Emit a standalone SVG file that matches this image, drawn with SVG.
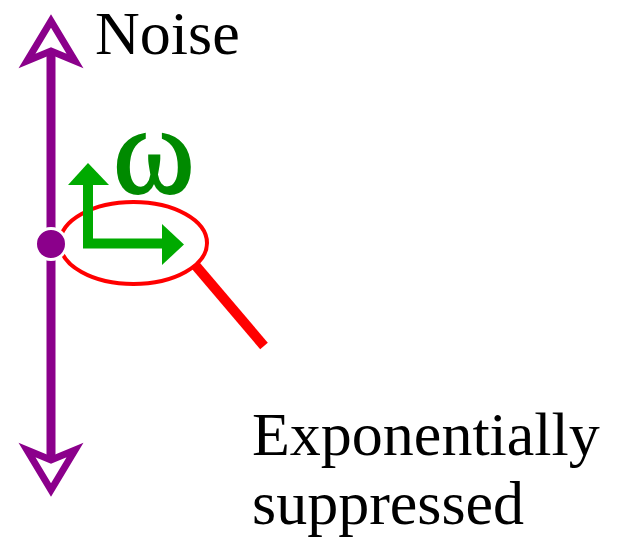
<svg xmlns="http://www.w3.org/2000/svg" width="617" height="542" viewBox="0 0 617 542">
<style>
.lbl{font-family:"Liberation Serif","Times New Roman",serif;font-size:62px;fill:#000}
.om{font-family:"Liberation Serif","Times New Roman",serif;font-size:124px;fill:#008a00;stroke:#008a00;stroke-width:2}
.ah{fill:#fff;stroke:#8b008b;stroke-width:7;stroke-linejoin:miter}
</style>
<rect width="617" height="542" fill="#fff"/>
<g id="connectors">
<line x1="51" y1="52" x2="51" y2="459" stroke="#8b008b" stroke-width="9"/>
<polygon class="ah" points="51,21 27,61 51,51 75,61"/>
<polygon class="ah" points="51,490 27,450 51,460 75,450"/>
<line x1="196" y1="266" x2="264" y2="346" stroke="#ff0000" stroke-width="10"/>
</g>
<g id="ellipse">
<ellipse cx="133.5" cy="243" rx="73.5" ry="41" fill="none" stroke="#ff0000" stroke-width="4"/>
</g>
<g id="axes">
<polyline points="88,183 88,243.5 162,243.5" fill="none" stroke="#00aa00" stroke-width="10" stroke-linejoin="miter"/>
<polygon points="68,185 109,185 88,163" fill="#00aa00"/>
<polygon points="162,224 162,265 184,244.5" fill="#00aa00"/>
</g>
<g id="point">
<circle cx="51" cy="244" r="15.5" fill="#8b008b" stroke="#fff" stroke-width="3"/>
</g>
<g id="omega">
<text class="om" x="113" y="193">ω</text>
</g>
<g id="noise">
<text class="lbl" x="95" y="54">Noise</text>
</g>
<g id="caption">
<text class="lbl" x="252" y="455">Exponentially</text>
<text class="lbl" x="252" y="524">suppressed</text>
</g>
</svg>
